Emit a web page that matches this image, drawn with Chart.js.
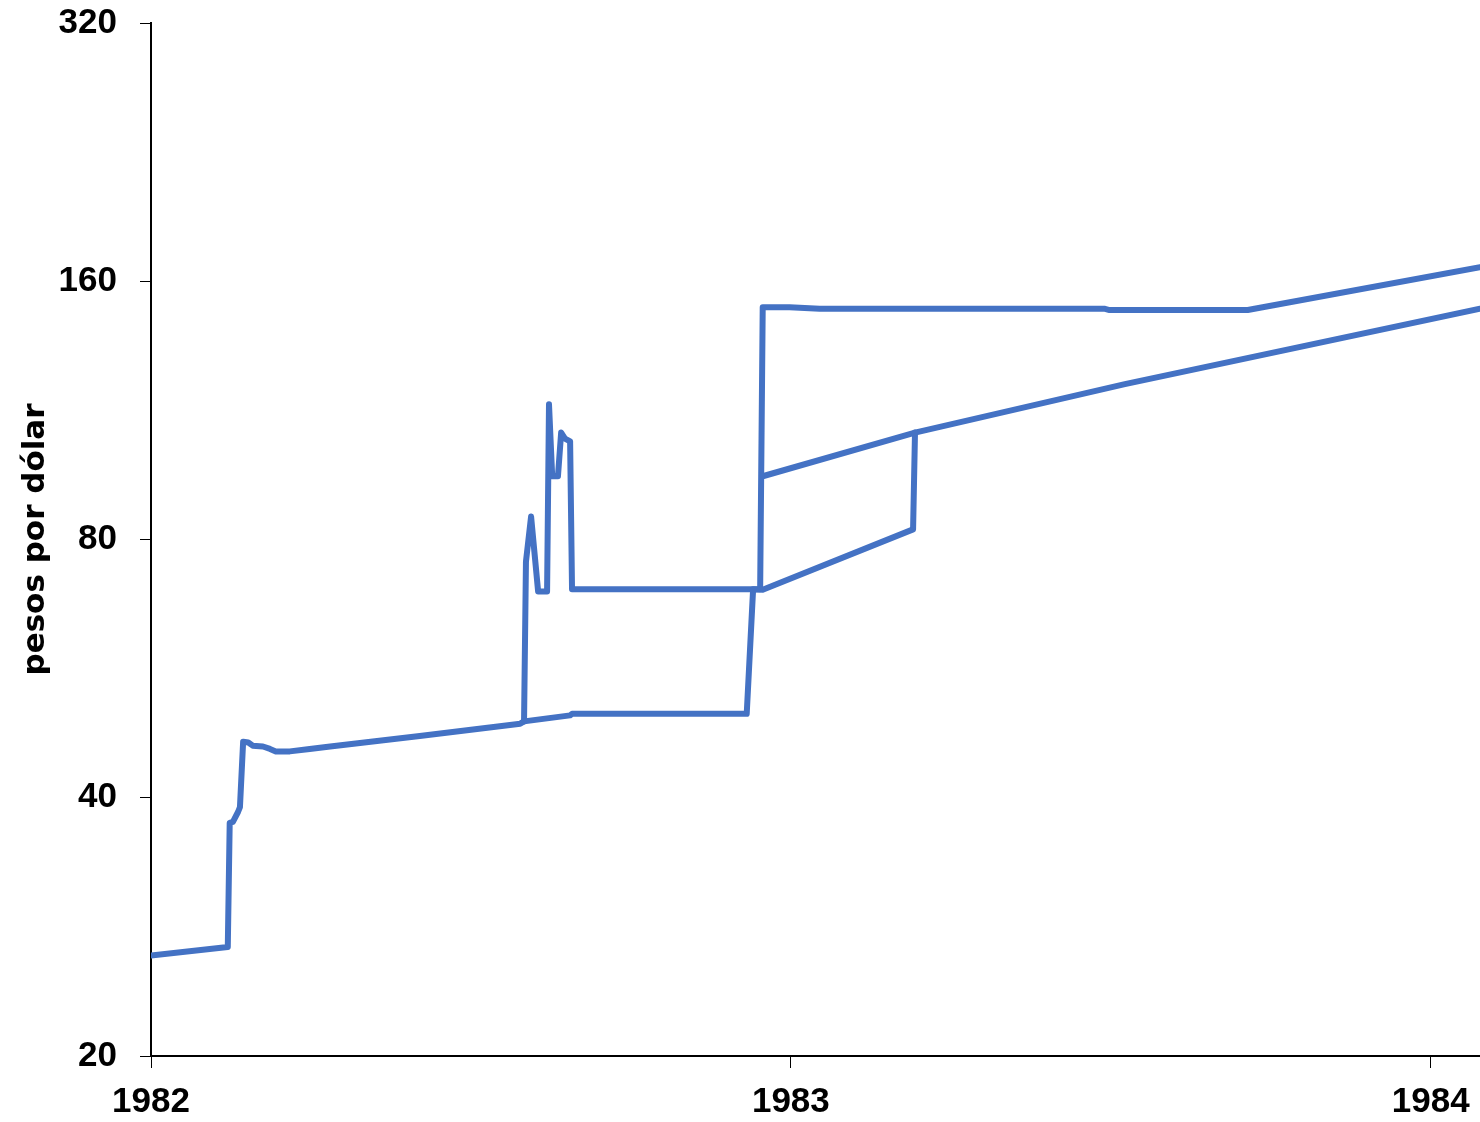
<!DOCTYPE html>
<html>
<head>
<meta charset="utf-8">
<script src="https://cdn.jsdelivr.net/npm/chart.js@4/dist/chart.umd.min.js"></script>
<style>
html,body{margin:0;padding:0;background:#fff;}
#wrap{width:1480px;height:1122px;}
</style>
</head>
<body>
<div id="wrap"><canvas id="c" width="1480" height="1122"></canvas></div>
<script>
// Tick labels
const xTicks = [1982, 1983, 1984];
const yTicks = [20, 40, 80, 160, 320];
const xMin = 1982, xMax = 1984.077;
const yMin = 20, yMax = 320;
const yTitle = 'pesos por dólar';

// Serie: tipo de cambio único / preferencial / especial
const prefX = [1982.000, 1982.120, 1982.123, 1982.128, 1982.136, 1982.139, 1982.144, 1982.152, 1982.159, 1982.175, 1982.186, 1982.195, 1982.217, 1982.248, 1982.280, 1982.420, 1982.577, 1982.583, 1982.655, 1982.658, 1982.931, 1982.941, 1982.956, 1983.191, 1983.194];
const prefY = [26.2, 26.8, 37.4, 37.5, 38.5, 39.0, 46.5, 46.4, 46.0, 45.9, 45.6, 45.3, 45.3, 45.6, 45.9, 47.2, 48.8, 49.1, 49.9, 50.1, 50.1, 70.0, 69.9, 82.2, 106.6];

// Serie: tipo de cambio general / libre
const libreX = [1982.583, 1982.586, 1982.594, 1982.605, 1982.619, 1982.622, 1982.627, 1982.636, 1982.641, 1982.647, 1982.655, 1982.658, 1982.952, 1982.956, 1982.998, 1983.045, 1983.491, 1983.498, 1983.714, 1984.077];
const libreY = [49.1, 75.4, 85.1, 69.6, 69.6, 115.0, 94.8, 94.8, 106.6, 104.9, 104.1, 70.0, 70.0, 149.2, 149.2, 148.6, 148.6, 148.1, 148.1, 166.1];

// Serie: tipo de cambio controlado
const contX = [1982.956, 1983.194, 1983.522, 1984.077];
const contY = [94.8, 106.6, 121.4, 148.6];

const lineColor = '#4472C4';
function pts(xs, ys){ return xs.map((x,i)=>({x:x, y:ys[i]})); }
function ds(label, xs, ys){
  return {label:label, data:pts(xs,ys), showLine:true, borderColor:lineColor, backgroundColor:lineColor,
    borderWidth:6, pointRadius:0, tension:0, borderJoinStyle:'round', borderCapStyle:'round', fill:false};
}

const tickFont = {family:'"Liberation Sans", Arial, sans-serif', weight:'bold', size:35};

new Chart(document.getElementById('c'), {
  type:'scatter',
  data:{datasets:[
    ds('preferencial', prefX, prefY),
    ds('libre', libreX, libreY),
    ds('controlado', contX, contY)
  ]},
  options:{
    responsive:false, animation:false, devicePixelRatio:1,
    layout:{padding:{top:0, right:0, bottom:0, left:0}},
    plugins:{legend:{display:false}, tooltip:{enabled:false}},
    scales:{
      x:{
        type:'linear', min:xMin, max:xMax,
        afterBuildTicks:(s)=>{ s.ticks = xTicks.map(v=>({value:v})); },
        afterFit:(s)=>{ s.height = 66; s.paddingLeft = 0; s.paddingRight = 0; },
        ticks:{font:tickFont, color:'#000', padding:13, maxRotation:0, autoSkip:false, callback:(v)=>String(v)},
        grid:{display:true, drawOnChartArea:false, drawTicks:true, tickLength:12, color:'#000', lineWidth:1},
        border:{display:true, color:'#000', width:2}
      },
      y:{
        type:'logarithmic', min:yMin, max:yMax,
        afterBuildTicks:(s)=>{ s.ticks = yTicks.map(v=>({value:v})); },
        afterFit:(s)=>{ s.width = 151; s.paddingTop = 23; s.paddingBottom = 0; },
        ticks:{font:tickFont, color:'#000', padding:23, autoSkip:false, callback:(v)=>String(v)},
        grid:{display:true, drawOnChartArea:false, drawTicks:true, tickLength:11, color:'#000', lineWidth:1},
        border:{display:true, color:'#000', width:2},
        title:{display:true, text:yTitle, color:'#000', font:{family:'"DejaVu Sans", sans-serif', weight:'bold', size:31}, padding:{top:17, bottom:0}}
      }
    }
  }
});
</script>
</body>
</html>
